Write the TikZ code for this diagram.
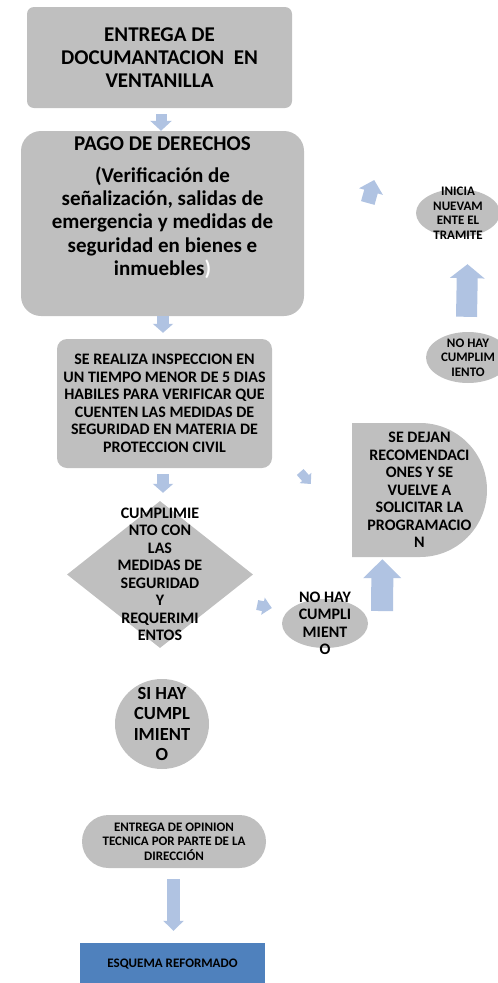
\documentclass[tikz,border=0pt]{standalone}
\usepackage{fontspec}
\setmainfont{Carlito}
\usetikzlibrary{shapes.geometric, shapes.misc, arrows.meta}
\definecolor{gris}{HTML}{BFBFBF}
\definecolor{azulclaro}{HTML}{B0C3E2}
\definecolor{azul}{HTML}{4F81BD}

\begin{document}
\begin{tikzpicture}[x=1pt, y=-1pt,
    forma/.style={fill=gris, inner sep=0pt},
    txtgrande/.style={align=center, inner sep=0pt, font=\fontsize{21}{23.3}\selectfont\bfseries},
    txtmedio/.style={align=center, inner sep=0pt, font=\fontsize{16}{17.5}\selectfont\bfseries},
    txtchico/.style={align=center, inner sep=0pt, font=\fontsize{13}{14.5}\selectfont\bfseries},
    flecha/.style n args={3}{draw=azulclaro, line width=#1, -{Triangle[width=#2, length=#3]}}]
    \useasboundingbox (0,0) rectangle (498,983);
    \node (ent) at (159.5,57.5) [forma, rounded corners=7pt, minimum width=265, minimum height=101,
        label={[txtgrande]center:ENTREGA DE\\DOCUMANTACION\ \ EN\\VENTANILLA}] {};
    \node (pago) at (162.5,223.5) [forma, rounded corners=20pt, minimum width=283, minimum height=185,
        label={[txtgrande, yshift=16pt]center:PAGO DE DERECHOS\\[9pt](Verificación de\\señalización, salidas de\\emergencia y medidas de\\seguridad en bienes e\\inmuebles{\color{white})}}] {};
    \node (insp) at (164.5,403.5) [forma, rounded corners=10pt, minimum width=215, minimum height=129,
        label={[txtmedio]center:SE REALIZA INSPECCION EN\\UN TIEMPO MENOR DE 5 DIAS\\HABILES PARA VERIFICAR QUE\\CUENTEN LAS MEDIDAS DE\\SEGURIDAD EN MATERIA DE\\PROTECCION CIVIL}] {};
    \node (cumple) at (160,574.5) [forma, diamond, minimum width=186, minimum height=147,
        label={[txtmedio]center:CUMPLIMIE\\NTO CON\\LAS\\MEDIDAS DE\\SEGURIDAD\\Y\\REQUERIMI\\ENTOS}] {};
    \node (nohay) at (325,623.5) [forma, ellipse, minimum width=86, minimum height=49,
        label={[txtmedio]center:NO HAY\\CUMPLI\\MIENT\\O}] {};
    \node (dejan) at (419.5,490) [forma, rounded rectangle, rounded rectangle west arc=none, minimum width=135, minimum height=134,
        label={[txtmedio]center:SE DEJAN\\RECOMENDACI\\ONES Y SE\\VUELVE A\\SOLICITAR LA\\PROGRAMACIO\\N}] {};
    \node (nohaydos) at (468,357.5) [forma, ellipse, minimum width=84, minimum height=51,
        label={[txtchico]center:NO HAY\\CUMPLIM\\IENTO}] {};
    \node (inicia) at (458,213) [forma, ellipse, minimum width=84, minimum height=48,
        label={[txtchico]center:INICIA\\NUEVAM\\ENTE EL\\TRAMITE}] {};
    \node (sihay) at (162,724) [forma, ellipse, minimum width=94, minimum height=90,
        label={[align=center, inner sep=0pt, font=\fontsize{18.5}{20.5}\selectfont\bfseries]center:SI HAY\\CUMPL\\IMIENT\\O}] {};
    \node (opinion) at (174,841.5) [forma, rounded rectangle, minimum width=184, minimum height=53,
        label={[txtchico]center:ENTREGA DE OPINION\\TECNICA POR PARTE DE LA\\DIRECCIÓN}] {};
    \node (esquema) at (172.5,964) [fill=azul, inner sep=0pt, minimum width=185, minimum height=42,
        txtchico] {ESQUEMA REFORMADO};
    % flechas entre los pasos
    \draw[flecha={11pt}{21pt}{10pt}] ([shift={(1.5,6)}]ent.south) -- ([shift={(-1.5,0)}]pago.north);
    \draw[flecha={12pt}{20pt}{9pt}] ([shift={(0.5,0)}]pago.south) -- ([shift={(-1.5,-6)}]insp.north);
    \draw[flecha={12pt}{20pt}{9pt}] ([shift={(-1.5,6)}]insp.south) -- ([shift={(3,-8)}]cumple.north);
    \draw[flecha={10pt}{17pt}{9pt}] ([shift={(4,30.5)}]cumple.east) -- ([shift={(-10,-15.5)}]nohay.west);
    \draw[flecha={22pt}{37pt}{19pt}] ([shift={(14,-12.5)}]nohay.east) -- ([shift={(30.5,2)}]dejan.south west);
    \draw[flecha={9pt}{15pt}{8pt}] ([shift={(28,68.5)}]insp.east) -- ([shift={(-41,-6)}]dejan.west);
    \draw[flecha={21pt}{34pt}{14pt}] ([shift={(-1.5,-15)}]nohaydos.north) -- ([shift={(9.5,27)}]inicia.south);
    \draw[flecha={14pt}{24pt}{12pt}] ([shift={(-48,-10)}]inicia.west) -- ([shift={(70,-43.5)}]pago.east);
    \draw[flecha={13pt}{20pt}{10pt}] ([shift={(-0.5,11)}]opinion.south) -- ([shift={(1,-12)}]esquema.north);
\end{tikzpicture}
\end{document}
